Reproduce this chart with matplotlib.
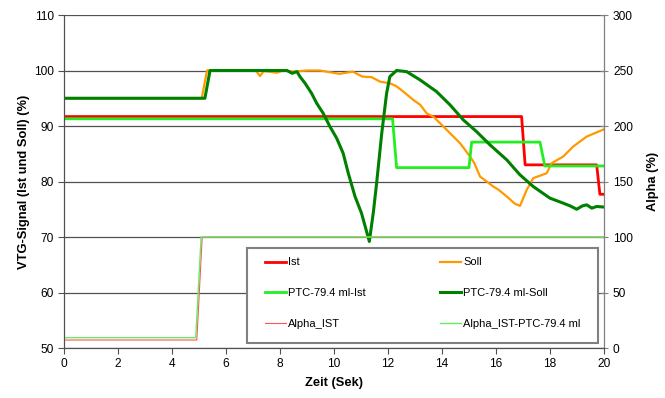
import matplotlib
matplotlib.use('Agg')
import matplotlib.pyplot as plt
from matplotlib.patches import Rectangle

plt.rcParams['font.family'] = ['Liberation Sans', 'DejaVu Sans']

# Ist / Soll (left axis, %)
ist_t = [0, 16.95, 17.08, 19.73, 19.85, 20]
ist_v = [91.7, 91.7, 83.0, 83.0, 77.7, 77.7]
soll_t = [0, 5.1, 5.3, 7.1, 7.26, 7.4, 7.9, 8.1, 8.5, 9.0, 9.48, 10.2, 10.7, 11.05, 11.4, 11.7, 12.07, 12.3,
          12.57, 12.94, 13.2, 13.43, 13.7, 13.93, 14.3, 14.67, 15.04, 15.2, 15.41, 15.9, 16.1, 16.4, 16.7,
          16.89, 17.14, 17.38, 17.88, 18.06, 18.49, 18.86, 19.36, 20]
soll_v = [95, 95, 100, 100, 99.0, 99.9, 99.6, 100, 99.8, 100, 100, 99.4, 99.8, 98.9, 98.8, 98.0, 97.7, 97.2,
          96.2, 94.7, 93.8, 92.3, 91.6, 90.5, 88.7, 86.9, 84.5, 83.3, 80.9, 79.1, 78.5, 77.3, 76.0,
          75.6, 78.5, 80.6, 81.5, 83.3, 84.5, 86.3, 88.1, 89.4]
ptc_ist_t = [0, 12.17, 12.32, 15.0, 15.1, 17.63, 17.81, 20]
ptc_ist_v = [91.3, 91.3, 82.5, 82.5, 87.1, 87.1, 82.8, 82.8]
ptc_soll_t = [0, 5.22, 5.41, 8.26, 8.45, 8.63, 8.74, 8.93, 9.17, 9.36, 9.60, 9.85, 10.10, 10.34, 10.53, 10.78,
              11.02, 11.31, 11.46, 11.58, 11.77, 11.95, 12.07, 12.32, 12.69, 13.19, 13.80, 14.30, 14.79,
              15.28, 15.78, 16.40, 16.89, 17.38, 18.0, 18.49, 18.75, 18.99, 19.2, 19.36, 19.55, 19.73, 20]
ptc_soll_v = [95, 95, 100, 100, 99.5, 99.8, 98.9, 97.7, 95.9, 94.1, 92.3, 89.9, 87.8, 85.1, 81.5, 77.3,
              74.3, 69.2, 74.5, 79.7, 88.7, 95.9, 98.9, 100, 99.8, 98.3, 96.2, 93.8, 91.1,
              89.0, 86.6, 83.9, 81.2, 79.1, 77.0, 76.1, 75.6, 75.0, 75.6, 75.8, 75.2, 75.5, 75.4]
# Alpha (right axis, %)
alpha_t = [0, 4.92, 5.12, 20]
alpha_v = [7.2, 7.2, 100, 100]
alpha_ptc_t = [0, 4.88, 5.08, 20]
alpha_ptc_v = [9.3, 9.3, 100, 100]

fig = plt.figure(figsize=(6.65, 3.98), dpi=100)
ax = fig.add_axes([0.0962, 0.1256, 0.812, 0.8367])
ax2 = ax.twinx()

l1, = ax.plot(ist_t, ist_v, color='#ff0000', lw=2.0, label='Ist')
l2, = ax.plot(soll_t, soll_v, color='#ff9900', lw=1.6, label='Soll')
l3, = ax.plot(ptc_ist_t, ptc_ist_v, color='#22ee22', lw=2.0, label='PTC-79.4 ml-Ist')
l4, = ax.plot(ptc_soll_t, ptc_soll_v, color='#008000', lw=2.2, label='PTC-79.4 ml-Soll')
l5, = ax2.plot(alpha_t, alpha_v, color='#ff5555', lw=0.8, label='Alpha_IST')
l6, = ax2.plot(alpha_ptc_t, alpha_ptc_v, color='#66ee66', lw=1.0, label='Alpha_IST-PTC-79.4 ml')

ax.set_xlim(0, 20); ax.set_ylim(50, 110); ax2.set_ylim(0, 300)
ax.set_xticks(range(0, 21, 2)); ax.set_yticks(range(50, 111, 10)); ax2.set_yticks(range(0, 301, 50))
ax.grid(axis='y', color='#505050', lw=0.9); ax.set_axisbelow(True)
for a in (ax, ax2):
    for s in a.spines.values(): s.set_color('#505050')
    a.spines['top'].set_visible(False)
ax2.spines['right'].set_color('#808080')
ax.tick_params(labelsize=8.6, colors='#505050', labelcolor='black', length=4)
ax2.tick_params(labelsize=8.6, colors='#808080', labelcolor='black', length=6, direction='inout')

ax.set_xlabel('Zeit (Sek)', fontsize=9.3, fontweight='bold', labelpad=5)
ax.set_ylabel('VTG-Signal (Ist und Soll) (%)', fontsize=9.3, fontweight='bold', labelpad=3)
ax2.set_ylabel('Alpha (%)', fontsize=9.3, fontweight='bold', labelpad=10)

ax2.add_patch(Rectangle((0.339, 0.015), 0.650, 0.285, transform=ax2.transAxes, facecolor='white',
                        edgecolor='#808080', lw=1.5, zorder=5))
leg = ax2.legend([l1, l3, l5, l2, l4, l6], [h.get_label() for h in (l1, l3, l5, l2, l4, l6)],
                 ncol=2, loc='upper left', bbox_to_anchor=(0.372, 0.272), frameon=False, borderpad=0,
                 fontsize=8, handlelength=1.9, handletextpad=0.15, labelspacing=1.85, columnspacing=6.75,
                 borderaxespad=0)
leg.set_zorder(6)

fig.savefig('out.png', dpi=100)
